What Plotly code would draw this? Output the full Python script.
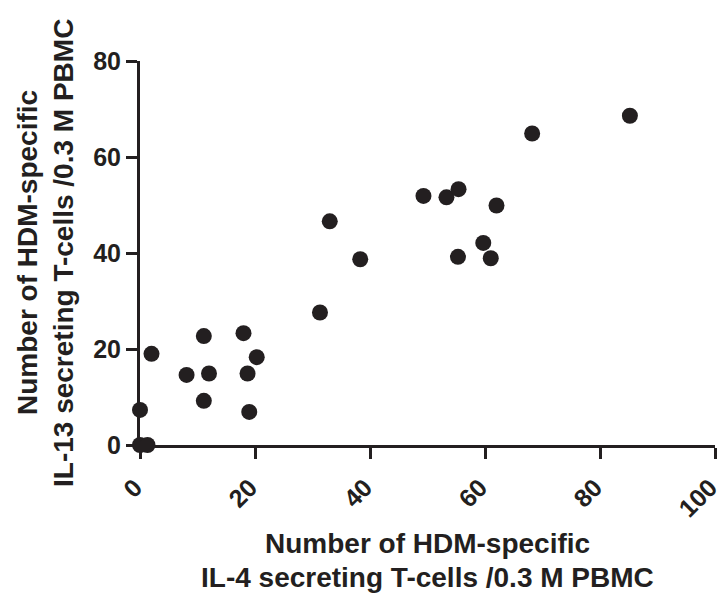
import plotly.graph_objects as go

il4 = [0, 1.3, 0, 2.0, 8.1, 11.1, 12.0, 11.1, 18.0, 18.7, 20.3, 19.0, 31.3,
       33.0, 38.3, 49.3, 53.3, 55.4, 62.0, 55.3, 59.7, 61.0, 68.2, 85.2]
il13 = [0, 0, 7.3, 19.0, 14.6, 22.7, 14.9, 9.2, 23.3, 14.9, 18.3, 6.9, 27.6,
        46.6, 38.7, 51.9, 51.6, 53.3, 49.9, 39.2, 42.1, 38.9, 64.9, 68.6]

x_ticks = [0, 20, 40, 60, 80, 100]
y_ticks = [0, 20, 40, 60, 80]

x_title = ["Number of HDM-specific", "IL-4 secreting T-cells /0.3 M PBMC"]
y_title = ["Number of HDM-specific", "IL-13 secreting T-cells /0.3 M PBMC"]

ink = "#231f20"
FONT = "Liberation Sans"

fig = go.Figure()
fig.add_trace(go.Scatter(
    x=il4, y=il13, mode="markers",
    marker=dict(size=16, color=ink, line=dict(width=0)),
    cliponaxis=False, showlegend=False,
))

axis_common = dict(
    showgrid=False, zeroline=False, showline=True, linewidth=3, linecolor=ink,
    ticks="outside", ticklen=11, tickwidth=3, tickcolor=ink,
    tickfont=dict(family=FONT, size=25, color=ink, weight="bold"),
    ticklabeloverflow="allow", automargin=False,
)
fig.update_xaxes(range=[0, 100], tickvals=x_ticks, ticktext=[str(v) for v in x_ticks],
                 tickangle=-45, ticklabelshift=-5, ticklabelstandoff=4, **axis_common)
fig.update_yaxes(range=[0, 80], tickvals=y_ticks, ticktext=[str(v) for v in y_ticks],
                 **axis_common)

annos = []
for i, t in enumerate(x_title):
    annos.append(dict(text=t, xref="paper", yref="paper", x=0.5, y=0,
                      yshift=-98 - 34 * i, xanchor="center", yanchor="middle",
                      showarrow=False,
                      font=dict(family=FONT, size=28, color=ink, weight="bold")))
for i, t in enumerate(y_title):
    annos.append(dict(text=t, xref="paper", yref="paper", x=0, y=0.5,
                      xshift=-113 + 36 * i, xanchor="center", yanchor="middle",
                      textangle=-90, showarrow=False,
                      font=dict(family=FONT, size=28, color=ink, weight="bold")))

fig.update_layout(
    width=722, height=597,
    margin=dict(l=140, r=7, t=61, b=152),
    paper_bgcolor="white", plot_bgcolor="white",
    annotations=annos,
)

fig.write_html("out.html", config={"displayModeBar": False},
               post_script="document.body.style.margin='0';document.body.style.overflow='hidden';")
